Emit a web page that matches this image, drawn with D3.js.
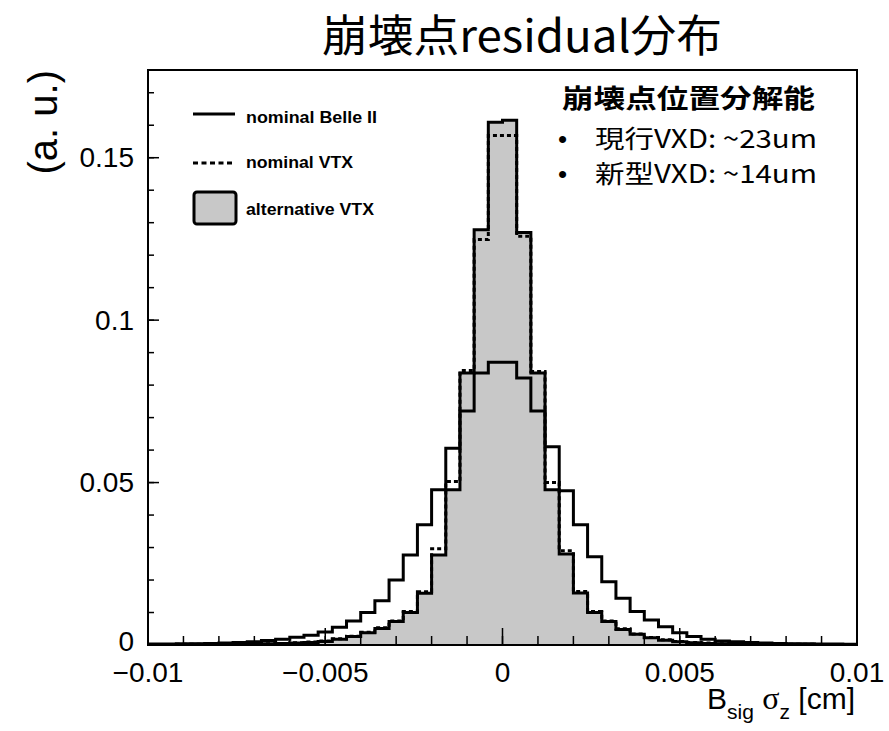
<!DOCTYPE html>
<html><head><meta charset="utf-8">
<script src="https://cdn.jsdelivr.net/npm/d3@7"></script>
<style>body{margin:0;background:#fff;} svg{display:block;}</style>
</head><body>
<svg id="chart" width="889" height="731"></svg>
<script>
// ---- data ----
const binStart = -0.01;
const binWidth = 0.0004;
const belleII = [
0.0003,0.0003,0.0004,0.0004,0.0005,0.0006,0.0008,0.0010,0.0014,0.0018,
0.0024,0.0030,0.0040,0.0055,0.0074,0.0100,0.0136,0.0200,0.0277,0.0370,
0.0478,0.0606,0.0720,0.0837,0.0870,0.0870,0.0822,0.0720,0.0610,0.0475,
0.0370,0.0272,0.0195,0.0144,0.0103,0.0077,0.0056,0.0038,0.0026,0.0018,
0.0012,0.0010,0.0008,0.0006,0.0005,0.0004,0.0004,0.0003,0.0003,0.0002];
const nominalVTX = [
0.0001,0.0001,0.0002,0.0002,0.0002,0.0003,0.0003,0.0004,0.0004,0.0005,
0.0007,0.0009,0.0012,0.0019,0.0027,0.0039,0.0053,0.0074,0.0103,0.0164,
0.0296,0.0503,0.0845,0.1248,0.1568,0.1568,0.1258,0.0842,0.0500,0.0290,
0.0165,0.0103,0.0074,0.0050,0.0034,0.0023,0.0016,0.0011,0.0008,0.0006,
0.0004,0.0003,0.0003,0.0002,0.0002,0.0002,0.0002,0.0001,0.0001,0.0001];
const alternativeVTX = [
0.0001,0.0001,0.0001,0.0002,0.0002,0.0002,0.0003,0.0003,0.0004,0.0005,
0.0006,0.0008,0.0011,0.0018,0.0026,0.0038,0.0051,0.0072,0.0100,0.0159,
0.0277,0.0478,0.0837,0.1278,0.1609,0.1615,0.1270,0.0837,0.0478,0.0280,
0.0160,0.0100,0.0072,0.0048,0.0033,0.0022,0.0015,0.0010,0.0007,0.0005,
0.0004,0.0003,0.0003,0.0002,0.0002,0.0002,0.0001,0.0001,0.0001,0.0001];
const xMajorTicks = [-0.01,-0.005,0,0.005,0.01];
const xTickLabels = ["\u22120.01","\u22120.005","0","0.005","0.01"];
const yMajorTicks = [0,0.05,0.1,0.15];
const yTickLabels = ["0","0.05","0.1","0.15"];
const legendLabels = ["nominal Belle II","nominal VTX","alternative VTX"];
const titleText = "崩壊点residual分布";
const noteTitle = "崩壊点位置分解能";
const noteLines = ["現行VXD: ~23um","新型VXD: ~14um"];

// ---- layout ----
const svg = d3.select("#chart");
const L = 148, R = 857, T = 70, B = 645;
const x = d3.scaleLinear().domain([-0.01, 0.01]).range([L, R]);
const y = d3.scaleLinear().domain([0, 0.177]).range([B, T]);
const sans = "'Liberation Sans', Arial, Helvetica, sans-serif";
const cjk = "'Noto Sans CJK JP', 'Noto Sans', sans-serif";

function toBins(vals){
  const pts = vals.map((v,i)=>({x: binStart + i*binWidth, v}));
  pts.push({x: binStart + vals.length*binWidth, v: vals[vals.length-1]});
  return pts;
}

svg.append("defs").append("clipPath").attr("id","frameclip")
  .append("rect").attr("x",L).attr("y",T).attr("width",R-L).attr("height",B-T);
const plot = svg.append("g").attr("clip-path","url(#frameclip)");

const area = d3.area().x(d=>x(d.x)).y0(y(0)).y1(d=>y(d.v)).curve(d3.curveStepAfter);
const line = d3.line().x(d=>x(d.x)).y(d=>y(d.v)).curve(d3.curveStepAfter);

plot.append("path").datum(toBins(alternativeVTX)).attr("d",area)
  .attr("fill","#c8c8c8").attr("stroke","none");
plot.append("path").datum(toBins(alternativeVTX)).attr("d",line)
  .attr("fill","none").attr("stroke","#000").attr("stroke-width",3);
plot.append("path").datum(toBins(belleII)).attr("d",line)
  .attr("fill","none").attr("stroke","#000").attr("stroke-width",3);
plot.append("path").datum(toBins(nominalVTX)).attr("d",line)
  .attr("fill","none").attr("stroke","#000").attr("stroke-width",3)
  .attr("stroke-dasharray","4,3");

// ---- axes ----
const xMinor = d3.range(-10, 11).map(i => i*0.001);
const yMinor = d3.range(0, 18).map(i => i*0.01);
const ax = svg.append("g");
ax.selectAll(".xminor").data(xMinor).enter().append("line")
  .attr("x1",d=>x(d)).attr("x2",d=>x(d)).attr("y1",B).attr("y2",B-9)
  .attr("stroke","#000").attr("stroke-width",1.5);
ax.selectAll(".xmajor").data(xMajorTicks).enter().append("line")
  .attr("x1",d=>x(d)).attr("x2",d=>x(d)).attr("y1",B).attr("y2",B-17)
  .attr("stroke","#000").attr("stroke-width",1.5);
ax.selectAll(".yminor").data(yMinor).enter().append("line")
  .attr("x1",L).attr("x2",L+6).attr("y1",d=>y(d)).attr("y2",d=>y(d))
  .attr("stroke","#000").attr("stroke-width",1.5);
ax.selectAll(".ymajor").data(yMajorTicks).enter().append("line")
  .attr("x1",L).attr("x2",L+11).attr("y1",d=>y(d)).attr("y2",d=>y(d))
  .attr("stroke","#000").attr("stroke-width",1.5);

svg.append("rect").attr("x",L).attr("y",T).attr("width",R-L).attr("height",B-T)
  .attr("fill","none").attr("stroke","#000").attr("stroke-width",2);

ax.selectAll(".xl").data(xMajorTicks).enter().append("text")
  .attr("x",d=>x(d)).attr("y",682).attr("text-anchor","middle")
  .attr("font-family",sans).attr("font-size",28).attr("fill","#000")
  .text((d,i)=>xTickLabels[i]);
ax.selectAll(".yl").data(yMajorTicks).enter().append("text")
  .attr("x",134).attr("y",d=>y(d)).attr("dy",(d,i)=> i===0 ? "0.2em" : "0.34em").attr("text-anchor","end")
  .attr("font-family",sans).attr("font-size",28).attr("fill","#000")
  .text((d,i)=>yTickLabels[i]);

// axis titles
const xt = svg.append("text").attr("x",855).attr("y",709).attr("text-anchor","end")
  .attr("font-family",sans).attr("font-size",30).attr("fill","#000");
xt.append("tspan").text("B");
xt.append("tspan").attr("font-size",21).attr("dy",10).text("sig");
xt.append("tspan").attr("dy",-10).text(" ");
xt.append("tspan").attr("font-family","'Liberation Serif', serif").attr("font-size",32).text("σ");
xt.append("tspan").attr("font-size",21).attr("dy",10).text("z");
xt.append("tspan").attr("dy",-10).text(" [cm]");

svg.append("text").attr("transform","translate(57,70) rotate(-90)")
  .attr("text-anchor","end").attr("font-family",sans).attr("font-size",40)
  .attr("fill","#000").text("(a. u.)");

// title
svg.append("text").attr("x",522).attr("y",52).attr("text-anchor","middle")
  .attr("font-family",cjk).attr("font-size",44).attr("fill","#000")
  .attr("textLength",400).attr("lengthAdjust","spacingAndGlyphs")
  .text(titleText);

// legend
const lg = svg.append("g");
lg.append("line").attr("x1",193).attr("x2",235).attr("y1",114).attr("y2",114)
  .attr("stroke","#000").attr("stroke-width",3);
lg.append("line").attr("x1",193).attr("x2",235).attr("y1",163).attr("y2",163)
  .attr("stroke","#000").attr("stroke-width",3).attr("stroke-dasharray","5,3.5");
lg.append("rect").attr("x",194).attr("y",192).attr("width",42).attr("height",32).attr("rx",3)
  .attr("fill","#c8c8c8").attr("stroke","#000").attr("stroke-width",3);
const lgY = [123,168,215], lgW = [131,107,128];
lg.selectAll(".lt").data(legendLabels).enter().append("text")
  .attr("x",246).attr("y",(d,i)=>lgY[i]).attr("font-family",sans).attr("font-weight","bold")
  .attr("font-size",17).attr("fill","#000")
  .attr("textLength",(d,i)=>lgW[i]).attr("lengthAdjust","spacingAndGlyphs")
  .text(d=>d);

// note
svg.append("text").attr("x",562).attr("y",108).attr("font-family",cjk).attr("font-weight","bold")
  .attr("font-size",26).attr("fill","#000").attr("textLength",253).attr("lengthAdjust","spacingAndGlyphs")
  .text(noteTitle);
const nY = [148,183];
noteLines.forEach((t,i)=>{
  svg.append("text").attr("x",558).attr("y",nY[i]).attr("font-family",sans)
    .attr("font-size",26).attr("fill","#000").text("•");
  svg.append("text").attr("x",595).attr("y",nY[i]).attr("font-family",cjk)
    .attr("font-size",25).attr("fill","#000").attr("textLength",222).attr("lengthAdjust","spacingAndGlyphs")
    .text(t);
});
</script>
</body></html>
